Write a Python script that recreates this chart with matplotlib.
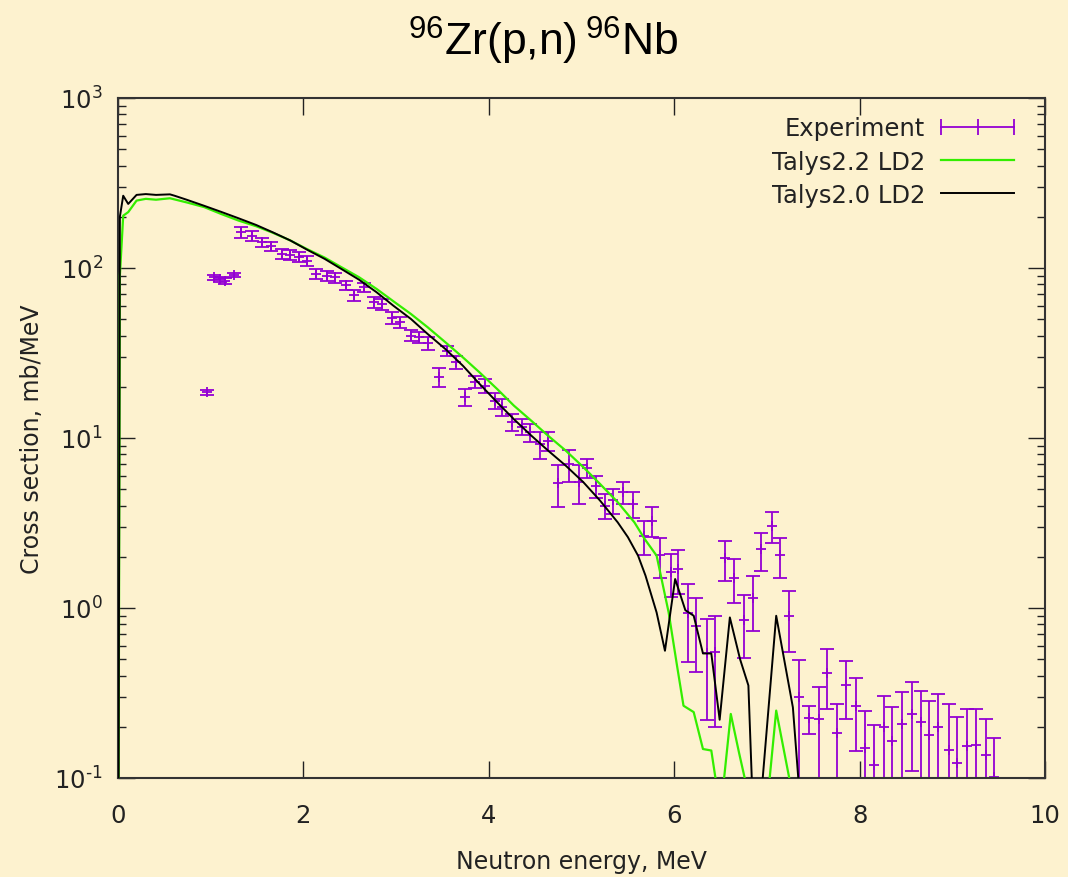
import matplotlib
matplotlib.use("Agg")
import matplotlib.pyplot as plt
from matplotlib.legend_handler import HandlerLine2D
from matplotlib.lines import Line2D
from matplotlib.ticker import LogLocator, NullLocator, NullFormatter, FuncFormatter
import numpy as np

# experimental points (neutron energy, MeV / cross section, mb/MeV / error)
exp_e = [0.96, 1.04, 1.10, 1.15, 1.25,
         1.33, 1.44, 1.55, 1.65, 1.77, 1.86, 1.95, 2.04, 2.14, 2.25,
         2.34, 2.46, 2.55, 2.65, 2.76, 2.85, 2.96, 3.04, 3.16, 3.25,
         3.34, 3.46, 3.55, 3.65, 3.74, 3.85, 3.96, 4.07, 4.14, 4.25,
         4.36, 4.44, 4.55, 4.64, 4.75, 4.86, 4.97, 5.06, 5.16, 5.25,
         5.34, 5.45, 5.56, 5.67, 5.76, 5.85, 5.96, 6.04, 6.15, 6.24,
         6.35, 6.44, 6.55, 6.65, 6.75, 6.85, 6.94, 7.05, 7.14, 7.24,
         7.35, 7.45, 7.56, 7.65, 7.76, 7.85, 7.96, 8.06, 8.15, 8.26,
         8.35, 8.46, 8.56, 8.66, 8.75, 8.84, 8.96, 9.05, 9.16, 9.25,
         9.36, 9.45]
exp_y = [18.6, 88, 86, 84, 91,
         162, 155, 142, 134, 121, 119, 116, 110, 92, 90,
         88, 79, 69, 77, 63, 61, 51, 48, 40, 39,
         36, 22.8, 32.6, 27.9, 17.4, 21.3, 20.3, 16.6, 15.2, 12.4,
         11.6, 10.8, 9.2, 9.6, 5.4, 7.0, 5.5, 6.7, 5.2, 4.0,
         4.3, 4.8, 4.1, 2.66, 3.26, 2.04, 1.62, 1.70, 0.93, 0.78,
         0.54, 0.55, 1.97, 1.50, 0.85, 1.14, 2.21, 3.03, 2.04, 0.90,
         0.298, 0.224, 0.222, 0.413, 0.184, 0.354, 0.265, 0.150, 0.119, 0.199,
         0.164, 0.208, 0.239, 0.213, 0.178, 0.199, 0.147, 0.122, 0.154, 0.157,
         0.137, 0.101]
exp_dy = [0.6, 3, 3, 3, 3,
          11, 10, 9, 9, 8, 8, 8, 7, 6, 6,
          6, 5, 5, 5, 4.5, 4.5, 4, 3.5, 3, 3,
          3, 2.9, 2.3, 2.6, 2.0, 1.75, 1.8, 1.8, 1.7, 1.4,
          1.25, 1.3, 1.7, 1.25, 1.5, 1.5, 1.4, 0.87, 0.76, 0.68,
          0.73, 0.7, 0.7, 0.6, 0.65, 0.53, 0.46, 0.49, 0.45, 0.36,
          0.32, 0.35, 0.52, 0.435, 0.34, 0.41, 0.55, 0.62, 0.53, 0.35,
          0.198, 0.042, 0.122, 0.159, 0.088, 0.132, 0.121, 0.099, 0.087, 0.106,
          0.097, 0.111, 0.129, 0.113, 0.107, 0.113, 0.125, 0.105, 0.10, 0.097,
          0.085, 0.071]

# Talys2.2 LD2
t22_e = [0.005, 0.02, 0.056, 0.11, 0.2, 0.3, 0.41, 0.56, 0.74, 0.93,
         1.11, 1.3, 1.49, 1.67, 1.86, 2.04, 2.23, 2.41, 2.6, 2.79,
         2.97, 3.16, 3.34, 3.53, 3.72, 3.9, 4.09, 4.27, 4.46, 4.64,
         4.83, 5.02, 5.2, 5.39, 5.57, 5.68, 5.81, 5.94, 6.03, 6.1,
         6.21, 6.31, 6.4, 6.5, 6.61, 6.7, 6.8, 6.9, 7.0, 7.1,
         7.3, 7.4]
t22_y = [0.05, 90, 203, 213, 249, 255, 252, 257, 243, 228,
         208, 190, 176, 161, 145, 129, 115, 101, 88.2, 75.2,
         63.7, 53.6, 44.8, 36.6, 29.8, 24.3, 19.4, 15.5, 12.6, 10.3,
         8.42, 6.73, 5.36, 4.19, 3.19, 2.55, 2.03, 0.94, 0.458, 0.266,
         0.244, 0.148, 0.145, 0.063, 0.238, 0.14, 0.08, 0.03, 0.068, 0.249,
         0.068, 0.01]

# Talys2.0 LD2
t20_e = [0.005, 0.02, 0.056, 0.11, 0.2, 0.3, 0.41, 0.56, 0.61, 0.74,
         0.93, 1.11, 1.3, 1.49, 1.67, 1.86, 2.04, 2.23, 2.41, 2.6,
         2.79, 2.97, 3.16, 3.34, 3.53, 3.72, 3.9, 4.09, 4.27, 4.46,
         4.64, 4.83, 5.02, 5.2, 5.39, 5.5, 5.61, 5.69, 5.81, 5.9,
         6.01, 6.12, 6.21, 6.31, 6.4, 6.49, 6.6, 6.71, 6.8, 6.86,
         6.94, 7.1, 7.28, 7.4]
t20_y = [0.05, 200, 266, 238, 269, 272, 269, 271, 266, 252,
         232, 214, 196, 179, 162, 145, 128, 113, 98.6, 85.3,
         71.9, 60, 50.1, 40.9, 33.4, 26.6, 20.8, 16.2, 12.9, 10.3,
         8.42, 6.87, 5.49, 4.28, 3.19, 2.61, 2.03, 1.55, 0.94, 0.56,
         1.48, 0.97, 0.90, 0.54, 0.54, 0.22, 0.88, 0.50, 0.35, 0.044,
         0.08, 0.90, 0.26, 0.036]

labels = ['Experiment', 'Talys2.2 LD2', 'Talys2.0 LD2']

bg = '#fdf2cf'
c_exp = '#9400d3'
c_22 = '#33ee00'
c_20 = '#000000'
plt.rcParams['font.family'] = ['DejaVu Sans']
plt.rcParams['axes.unicode_minus'] = False


def pow10(v, pos):
    n = int(round(np.log10(v)))
    s = r'\text{-}%d' % -n if n < 0 else '%d' % n
    return r'$\mathregular{10^{%s}}$' % s


fig = plt.figure(figsize=(10.68, 8.78), dpi=100, facecolor=bg)
ax = fig.add_axes([0.1105, 0.1128, 0.8680, 0.7745])
ax.set_facecolor(bg)

ax.errorbar(exp_e, exp_y, yerr=exp_dy, fmt='+', color=c_exp, ms=7, mew=1.3,
            elinewidth=1.3, capsize=4.7, capthick=1.3, zorder=2)
ax.plot(t22_e, t22_y, color=c_22, lw=1.6, zorder=3)
ax.plot(t20_e, t20_y, color=c_20, lw=1.4, zorder=4)

ax.set_yscale('log', nonpositive='clip')
ax.set_xlim(0, 10)
ax.set_ylim(0.1, 1000)
ax.set_xticks([0, 2, 4, 6, 8, 10])
ax.xaxis.set_minor_locator(NullLocator())
ax.yaxis.set_major_locator(LogLocator(base=10, numticks=10))
ax.yaxis.set_major_formatter(FuncFormatter(pow10))
ax.yaxis.set_minor_locator(LogLocator(base=10, subs=np.arange(2, 10), numticks=10))
ax.yaxis.set_minor_formatter(NullFormatter())

ax.tick_params(which='both', direction='in', top=True, right=True,
               labelsize=17.5, color='#222222', labelcolor='#222222')
ax.tick_params(which='major', length=12, width=1.0)
ax.tick_params(which='minor', length=6, width=1.0)
ax.tick_params(axis='x', pad=18)
ax.tick_params(axis='y', pad=11)
for s in ax.spines.values():
    s.set_linewidth(1.5)
    s.set_color('#333333')

ax.set_xlabel('Neutron energy, MeV', fontsize=17, color='#222222')
ax.set_ylabel('Cross section, mb/MeV', fontsize=17, color='#222222')
ax.xaxis.set_label_coords(0.5, -0.104)
ax.yaxis.set_label_coords(-0.08, 0.5)

handles = [Line2D([], [], color=c_exp, marker='|', ms=12, mew=1.3, lw=1.3),
           Line2D([], [], color=c_22, lw=1.6),
           Line2D([], [], color=c_20, lw=1.4)]
ax.legend(handles, labels, loc='upper right', bbox_to_anchor=(0.9666, 0.973),
          frameon=False, markerfirst=False, handlelength=3.0, handletextpad=0.65,
          labelspacing=0.38, borderpad=0, borderaxespad=0, fontsize=17.5,
          labelcolor='#222222',
          handler_map={handles[0]: HandlerLine2D(numpoints=3, marker_pad=0)})

fig.text(0.509, 0.937, r'$\mathregular{^{96}}$Zr(p,n)$\mathregular{\,^{96}}$Nb',
         ha='center', va='baseline', fontsize=32, family='Liberation Sans')

fig.savefig('out.png', dpi=100, facecolor=bg)
